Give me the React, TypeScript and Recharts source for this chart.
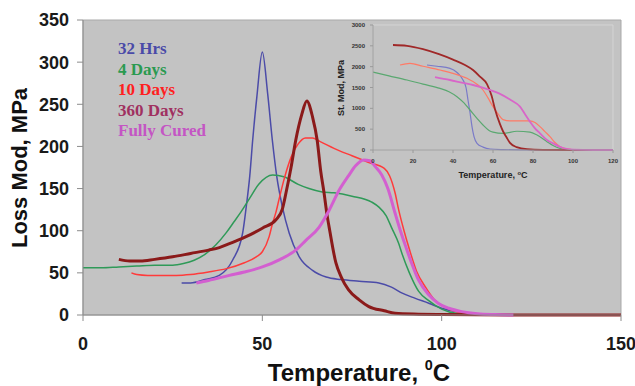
import { LineChart, Line, XAxis, YAxis, CartesianGrid, ReferenceArea, Legend } from 'recharts'

const sans = '"Liberation Sans", Arial, sans-serif'
const serif = '"Liberation Serif", "Times New Roman", serif'

// main chart: loss modulus vs temperature
const mainXTicks = [0, 50, 100, 150]
const mainYTicks = [0, 50, 100, 150, 200, 250, 300, 350]

const seriesNames = ['32 Hrs', '4 Days', '10 Days', '360 Days', 'Fully Cured']
const lineColors = ['#4b4ba8', '#2f9a58', '#ff3b3b', '#8b1a1a', '#d35fd0']
const labelColors = ['#4a4aa8', '#2a9a50', '#ff2020', '#a03060', '#c455c4']
const lineWidths = [1.5, 1.5, 1.5, 3, 3]

const hrs32T = [27.5, 30, 34, 38, 41.7, 44.5, 45.5, 46.5, 47.3, 48.5, 50, 51.5, 52.8, 54, 55.6, 57.5, 60.3, 64, 67.8, 72, 77, 82.5, 86, 89, 92.5, 96.4, 100, 104, 108, 112]
const hrs32Y = [38, 38, 42, 47, 65, 97, 128, 165, 207, 260, 312, 262, 207, 165, 128, 97, 69, 53, 45, 42, 40, 38, 33, 26, 20, 14, 8, 4, 1.5, 0.5]

const days4T = [0, 5, 10, 15, 20, 25, 28, 31, 34, 37, 40, 42, 44, 46.4, 49, 52.9, 56, 60, 63, 66.7, 70, 75, 80.5, 82.5, 84.5, 86, 88, 89, 91, 93.6, 96.4, 100, 104, 110]
const days4Y = [56, 56, 57, 58, 59, 59, 61, 65, 72, 83, 98, 110, 122, 138, 155, 166, 164, 155, 150, 146, 145, 141, 134, 128, 118, 104, 85, 72, 50, 28, 17, 7, 2, 0.5]

const days10T = [13.5, 15, 18, 22, 26, 30, 35, 40, 45, 48.3, 50, 51.9, 52.8, 53.8, 54.7, 56, 58, 60, 62, 64, 66, 71.4, 75, 79.7, 84, 85.5, 87, 88, 89.5, 91, 93, 95.5, 98, 101, 105, 110]
const days10Y = [50, 48, 47, 47, 47, 48, 51, 55, 62, 69, 75, 93, 108, 122, 138, 160, 187, 203, 210, 210, 206, 195, 189, 181, 174, 165, 145, 125, 100, 78, 52, 33, 18, 9, 3, 1]

const days360T = [10, 13, 16, 20, 25, 30, 35, 38, 41, 45, 50, 53.8, 55.6, 56.6, 58, 59.3, 61, 62.4, 64, 65.3, 66.3, 67.2, 68, 68.8, 70.5, 72, 74, 77, 79.7, 84, 87, 93.6, 100, 120, 150]
const days360Y = [66, 64, 64, 66, 69, 73, 77, 80, 85, 92, 103, 113, 126, 145, 175, 207, 238, 254, 235, 207, 170, 145, 120, 100, 62, 45, 30, 18, 10, 5, 2, 1, 0.5, 0, 0]

const curedT = [31.6, 35, 40.8, 45, 50, 55, 59.3, 62, 65.8, 68.6, 71.4, 74, 76, 78.3, 80, 81.5, 83.3, 85, 87, 88.5, 90, 91.5, 93.6, 96.4, 99, 102, 105.6, 110, 115, 120]
const curedY = [38, 41, 47, 51, 57, 66, 77, 88, 104, 124, 148, 165, 177, 184, 183, 176, 166, 150, 121, 100, 81, 63, 41, 24, 14, 8, 4, 1.5, 0.5, 0]

// inset: storage modulus vs temperature
const insetXTicks = [0, 20, 40, 60, 80, 100, 120]
const insetYTicks = [0, 500, 1000, 1500, 2000, 2500, 3000]
const insetColors = ['#7a7ac8', '#5aa870', '#ff7a66', '#a02828', '#d866c8']
const insetWidths = [1.2, 1.2, 1.2, 1.8, 1.8]

const stHrs32T = [27, 32, 38.5, 42, 45, 46.5, 47.5, 48.5, 49.5, 50.5, 52, 55, 58.5, 65, 75, 90, 120]
const stHrs32Y = [2040, 2010, 1960, 1860, 1680, 1500, 1200, 900, 560, 320, 160, 70, 24, 10, 3, 0, 0]

const stDays4T = [0, 8, 17, 25, 33.5, 38, 42, 45.5, 48.5, 52, 55, 58, 60, 65, 72, 78.5, 82, 87, 90, 93.5, 97, 105, 120]
const stDays4Y = [1870, 1780, 1680, 1580, 1480, 1400, 1280, 1130, 960, 760, 600, 470, 430, 400, 450, 430, 360, 200, 110, 40, 12, 0, 0]

const stDays10T = [13.5, 18.5, 25, 33.5, 40, 47, 52, 55, 57.5, 60, 62.5, 65, 68.5, 73, 78.5, 81, 83.5, 86, 88.5, 91, 93.5, 97, 100, 110, 120]
const stDays10Y = [2040, 2080, 2010, 1920, 1840, 1720, 1580, 1440, 1250, 1040, 870, 730, 700, 700, 700, 660, 560, 440, 320, 180, 80, 25, 5, 0, 0]

const stDays360T = [10, 17, 25, 33, 40, 46, 50, 53.5, 57, 59.3, 61, 63.5, 65, 66.8, 68.5, 71.8, 77, 85, 100, 120]
const stDays360Y = [2520, 2500, 2420, 2300, 2170, 2040, 1920, 1760, 1580, 1300, 980, 620, 450, 300, 170, 70, 20, 5, 0, 0]

const stCuredT = [31, 38.5, 45, 50, 58.5, 63, 68.5, 73.5, 76, 78.5, 81, 83.5, 87, 90, 95, 100, 110, 120]
const stCuredY = [1750, 1680, 1610, 1560, 1440, 1360, 1210, 1040, 860, 680, 520, 400, 240, 160, 48, 10, 0, 0]

const pairs = (t: number[], y: number[]) => t.map((x, i) => ({ x, y: y[i] }))

const mainSeries = [
  pairs(hrs32T, hrs32Y),
  pairs(days4T, days4Y),
  pairs(days10T, days10Y),
  pairs(days360T, days360Y),
  pairs(curedT, curedY),
]

const insetSeries = [
  pairs(stHrs32T, stHrs32Y),
  pairs(stDays4T, stDays4Y),
  pairs(stDays10T, stDays10Y),
  pairs(stDays360T, stDays360Y),
  pairs(stCuredT, stCuredY),
]

const bigTick = { fill: '#1a1a1a', fontSize: 18, fontWeight: 700, fontFamily: sans }
const smallTick = { fill: '#333', fontSize: 6, fontWeight: 700, fontFamily: sans }

// legend is listed in series order, whatever order the payload comes in
const renderLegend = () => (
  <div style={{ fontFamily: serif, fontWeight: 700, fontSize: 17, lineHeight: '20.5px', textAlign: 'left' }}>
    {seriesNames.map((name, i) => (
      <div key={name} style={{ color: labelColors[i] }}>
        {name}
      </div>
    ))}
  </div>
)

function Inset() {
  return (
    <div style={{ position: 'absolute', left: 335, top: 12 }}>
      <LineChart width={290} height={180} margin={{ top: 13, right: 12, bottom: 26, left: 0 }}>
        <ReferenceArea x1={0} x2={120} y1={0} y2={3000} fill="none" stroke="#d4d4d4" />
        <XAxis
          type="number"
          dataKey="x"
          domain={[0, 120]}
          ticks={insetXTicks}
          allowDataOverflow
          height={16}
          tickSize={3}
          tickMargin={6}
          stroke="#9a9a9a"
          tick={smallTick}
        />
        <YAxis
          type="number"
          domain={[0, 3000]}
          ticks={insetYTicks}
          width={38}
          tickSize={3}
          tickMargin={5}
          stroke="#9a9a9a"
          tick={smallTick}
        />
        {insetSeries.map((d, i) => (
          <Line
            key={seriesNames[i]}
            data={d}
            dataKey="y"
            type="monotone"
            stroke={insetColors[i]}
            strokeWidth={insetWidths[i]}
            dot={false}
            isAnimationActive={false}
          />
        ))}
      </LineChart>
      <div
        style={{
          position: 'absolute', left: 6, top: 76, transform: 'translate(-50%,-50%) rotate(-90deg)',
          fontFamily: sans, fontWeight: 700, fontSize: 9, whiteSpace: 'nowrap', color: '#222', lineHeight: 1,
        }}
      >
        St. Mod, MPa
      </div>
      <div
        style={{
          position: 'absolute', left: 158, top: 163, transform: 'translate(-50%,-50%)',
          fontFamily: sans, fontWeight: 700, fontSize: 9, whiteSpace: 'nowrap', color: '#222', lineHeight: 1,
        }}
      >
        Temperature, <span style={{ fontSize: '0.65em', position: 'relative', top: '-0.6em' }}>o</span>C
      </div>
    </div>
  )
}

export default function App() {
  return (
    <div style={{ position: 'absolute', left: 0, top: 0, width: 635, height: 386, background: '#fff', overflow: 'hidden' }}>
      <LineChart width={635} height={386} margin={{ top: 20, right: 14, bottom: 41, left: 0 }}>
        <CartesianGrid fill="#c3c3c3" horizontal={false} vertical={false} stroke="none" />
        <ReferenceArea x1={0} x2={150} y1={0} y2={350} fill="none" stroke="#a9a9a9" />
        <XAxis
          type="number"
          dataKey="x"
          domain={[0, 150]}
          ticks={mainXTicks}
          allowDataOverflow
          height={30}
          tickSize={6}
          tickMargin={16}
          stroke="#8c8c8c"
          tick={bigTick}
        />
        <YAxis
          type="number"
          domain={[0, 350]}
          ticks={mainYTicks}
          width={83}
          tickSize={6}
          tickMargin={8}
          stroke="#8c8c8c"
          tick={bigTick}
        />
        <Legend
          layout="vertical"
          align="center"
          verticalAlign="middle"
          content={renderLegend}
          wrapperStyle={{ left: 118, top: 39, width: 'auto', height: 'auto' }}
        />
        {mainSeries.map((d, i) => (
          <Line
            key={seriesNames[i]}
            name={seriesNames[i]}
            data={d}
            dataKey="y"
            type="monotone"
            stroke={lineColors[i]}
            strokeWidth={lineWidths[i]}
            dot={false}
            isAnimationActive={false}
          />
        ))}
      </LineChart>
      <Inset />
      <div
        style={{
          position: 'absolute', left: 20, top: 168, transform: 'translate(-50%,-50%) rotate(-90deg)',
          fontFamily: sans, fontWeight: 700, fontSize: 22, whiteSpace: 'nowrap', color: '#111', lineHeight: 1,
        }}
      >
        Loss Mod, MPa
      </div>
      <div
        style={{
          position: 'absolute', left: 359, top: 373, transform: 'translate(-50%,-50%)',
          fontFamily: sans, fontWeight: 700, fontSize: 24, whiteSpace: 'nowrap', color: '#111', lineHeight: 1,
        }}
      >
        Temperature, <span style={{ fontSize: '0.6em', position: 'relative', top: '-0.75em' }}>0</span>C
      </div>
    </div>
  )
}
